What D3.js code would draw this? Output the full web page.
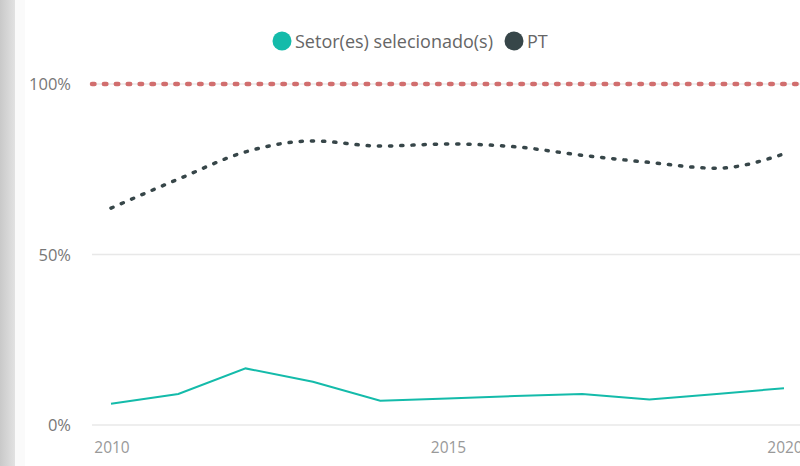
<!DOCTYPE html>
<html>
<head>
<meta charset="utf-8">
<script src="https://cdn.jsdelivr.net/npm/d3@7"></script>
<style>
  body { margin: 0; background: #fff; }
  svg { display: block; font-family: "Open Sans", "DejaVu Sans", sans-serif; }
</style>
</head>
<body>
<svg id="chart" width="800" height="466"></svg>
<script>
// data
var years = [2010, 2011, 2012, 2013, 2014, 2015, 2016, 2017, 2018, 2019, 2020];
var setor = [6.2, 9.1, 16.6, 12.7, 7.1, 7.8, 8.5, 9.1, 7.5, 9.1, 10.8];
var pt = [63.6, 72.1, 80.1, 83.3, 81.8, 82.4, 81.6, 79.1, 77.0, 75.3, 79.5];
var refLine = 100;
var yTicks = [0, 50, 100];
var xTicks = [2010, 2015, 2020];
var legendNames = ["Setor(es) selecionado(s)", "PT"];
var colors = ["#14BBAA", "#374649"];

var svg = d3.select("#chart");

// grey panel edge on the left
var grad = svg.append("defs").append("linearGradient").attr("id", "edge");
grad.append("stop").attr("offset", "0%").attr("stop-color", "#c9c9c9");
grad.append("stop").attr("offset", "100%").attr("stop-color", "#e2e2e2");
svg.append("rect").attr("x", 0).attr("y", 0).attr("width", 15).attr("height", 466).attr("fill", "url(#edge)");
svg.append("rect").attr("x", 15).attr("y", 0).attr("width", 10).attr("height", 466).attr("fill", "#fafafa");

var x = d3.scaleLinear().domain([2010, 2020]).range([111, 784]);
var y = d3.scaleLinear().domain([0, 100]).range([425, 84]);

// gridlines
svg.append("g").selectAll("line").data(yTicks).enter().append("line")
    .attr("x1", 92).attr("x2", 800)
    .attr("y1", function(d){ return y(d); })
    .attr("y2", function(d){ return y(d); })
    .style("stroke", "#e8e8e8")
    .style("stroke-width", "1.5");

// y labels
svg.append("g").selectAll("text").data(yTicks).enter().append("text")
    .attr("x", 71)
    .attr("y", function(d){ return y(d) + 6; })
    .attr("text-anchor", "end")
    .attr("fill", "#777")
    .style("font-size", "16.5px")
    .text(function(d){ return d + "%"; });

// x labels
svg.append("g").selectAll("text").data(xTicks).enter().append("text")
    .attr("x", function(d){ return x(d) + 1; })
    .attr("y", 453)
    .attr("text-anchor", "middle")
    .attr("fill", "#999")
    .style("font-size", "15.5px")
    .text(function(d){ return d; });

// 100% reference line
svg.append("line")
    .attr("x1", 92).attr("x2", 800)
    .attr("y1", y(refLine)).attr("y2", y(refLine))
    .style("stroke", "#D16E6E")
    .style("stroke-width", "4.5")
    .style("stroke-linecap", "round")
    .style("stroke-dasharray", "2.5,9.4");

// PT line (smooth, dotted)
var smooth = d3.line()
    .x(function(d, i){ return x(years[i]); })
    .y(function(d){ return y(d); })
    .curve(d3.curveMonotoneX);

svg.append("path")
    .datum(pt)
    .attr("d", smooth)
    .attr("fill", "none")
    .style("stroke", colors[1])
    .style("stroke-width", "3.5")
    .style("stroke-linecap", "round")
    .style("stroke-dasharray", "2.2,9");

// setor line
var straight = d3.line()
    .x(function(d, i){ return x(years[i]); })
    .y(function(d){ return y(d); });

svg.append("path")
    .datum(setor)
    .attr("d", straight)
    .attr("fill", "none")
    .style("stroke", colors[0])
    .style("stroke-width", "2");

// legend
var legX = [282, 514];
var leg = svg.append("g").selectAll("g").data(legendNames).enter().append("g")
    .attr("transform", function(d, i){ return "translate(" + legX[i] + ",41)"; });
leg.append("circle").attr("r", 9.5).attr("fill", function(d, i){ return colors[i]; });
leg.append("text")
    .attr("x", 13).attr("y", 6.5)
    .attr("fill", "#666")
    .style("font-size", "18px")
    .text(function(d){ return d; });
</script>
</body>
</html>
